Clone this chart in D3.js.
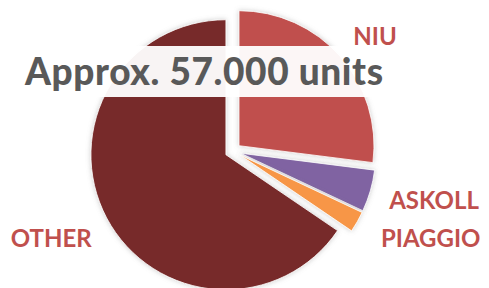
<!DOCTYPE html>
<html>
  <head>
    <meta charset="utf-8">
    <title>Approx. 57.000 units</title>
    <script src="https://cdn.jsdelivr.net/npm/d3@7"></script>
    <style>
      body
      {
        margin: 0px;
        padding: 0px;
        background: white;
      }

      svg
      {
        display: block;
        overflow: hidden;
      }

      .slice
      {
        stroke: white;
        stroke-width: 0.8px;
        filter: url(#glow);
      }

      .label
      {
        font-family: Lato, "Open Sans", sans-serif;
        font-weight: bold;
        font-size: 24px;
        fill: #c0504d;
        text-anchor: middle;
      }

      .title
      {
        font-family: Lato, "Open Sans", sans-serif;
        font-weight: 900;
        font-size: 37px;
        fill: #595959;
      }
    </style>
  </head>
  <body>
    <svg id="chart">
      <defs>
        <filter id="glow" x="-20%" y="-20%" width="140%" height="140%">
          <feDropShadow dx="0" dy="0" stdDeviation="2.5" flood-color="#7f7f7f" flood-opacity="0.4" />
        </filter>
      </defs>
      <g id="slices" />
      <g id="titleBox" />
      <g id="labels" />
    </svg>

    <script>

      //--- Data (share of units, %)
      var categories = ["NIU", "ASKOLL", "PIAGGIO", "OTHER"];
      var shares = [27, 5, 2.5, 65.5];
      var colors = ["#c0504d", "#8064a2", "#f79646", "#772a29"];
      var title = "Approx. 57.000 units";

      //--- Layout
      var width = 489;
      var height = 288;
      var centerX = 233;
      var centerY = 151;
      var radius = 135;
      var explode = 8;
      var labelRadius = 200;
      var labelNudge = [[-8, 26], [9, 2], [24, -3], [-5, 2]];

      var svg = d3.select("#chart")
          .attr("width", width)
          .attr("height", height);

      var pie = d3.pie()
          .sort(null)
          .value(d => d.value);

      var arcs = pie(categories.map((c, i) => ({ name: c, value: shares[i], color: colors[i], nudge: labelNudge[i] })));

      var arc = d3.arc()
          .innerRadius(0)
          .outerRadius(radius);

      //--- Unit vector along the bisector of a slice
      function mid(d)
      {
        var a = (d.startAngle + d.endAngle) / 2;
        return [Math.sin(a), -Math.cos(a)];
      }

      //--- Slices, every one pulled out a little
      svg.select("#slices")
          .attr("transform", "translate(" + centerX + "," + centerY + ")")
          .selectAll("path")
          .data(arcs)
          .enter()
            .append("path")
              .classed("slice", true)
              .attr("d", arc)
              .attr("fill", d => d.data.color)
              .attr("transform", d => "translate(" + (mid(d)[0] * explode) + "," + (mid(d)[1] * explode) + ")");

      //--- Title over a white band
      var tb = svg.select("#titleBox");
      tb.append("rect")
          .attr("x", 20)
          .attr("y", 46)
          .attr("width", 370)
          .attr("height", 51)
          .attr("fill", "white")
          .attr("fill-opacity", 0.95);

      tb.append("text")
          .classed("title", true)
          .attr("x", 25)
          .attr("y", 85)
          .attr("textLength", 358)
          .attr("lengthAdjust", "spacing")
          .text(title);

      //--- Category labels outside the pie
      svg.select("#labels")
          .attr("transform", "translate(" + centerX + "," + centerY + ")")
          .selectAll("text")
          .data(arcs)
          .enter()
            .append("text")
              .classed("label", true)
              .attr("x", d => mid(d)[0] * labelRadius + d.data.nudge[0])
              .attr("y", d => mid(d)[1] * labelRadius + d.data.nudge[1])
              .text(d => d.data.name);

    </script>
  </body>
</html>
